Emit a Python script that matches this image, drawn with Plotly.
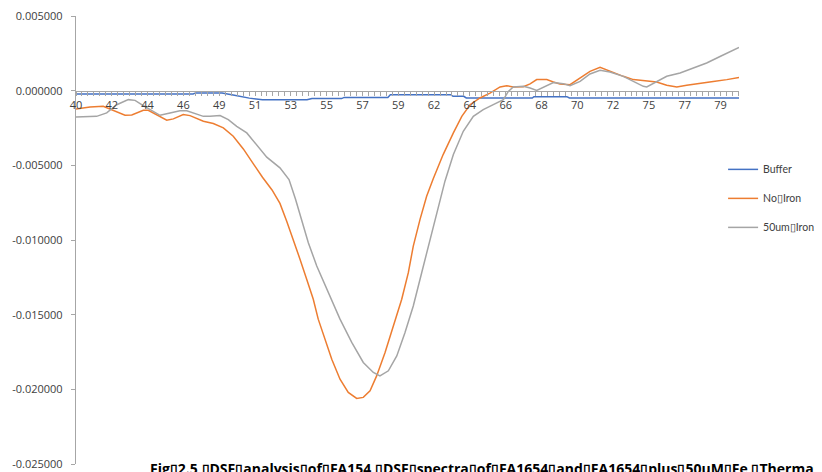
import plotly.graph_objects as go

# ---- data (temperature in °C, first derivative of fluorescence) ----
buffer_t = [40.00, 47.10, 47.25, 48.85, 49.60, 50.50, 51.30, 54.00, 54.30, 56.10, 56.25,
            58.90, 59.05, 62.70, 62.85, 63.50, 63.65, 67.65, 67.75, 69.75, 69.90, 80.18]
buffer_v = [-0.00022, -0.00022, -0.00015, -0.00015, -0.00030, -0.00050, -0.00060, -0.00060,
            -0.00053, -0.00053, -0.00045, -0.00045, -0.00027, -0.00027, -0.00038, -0.00038,
            -0.00049, -0.00049, -0.00040, -0.00040, -0.00049, -0.00049]

noiron_t = [40.00, 40.85, 41.65, 42.26, 42.97, 43.38, 44.08, 44.38, 44.89, 45.50, 45.90,
            46.50, 46.91, 47.72, 48.32, 48.93, 49.53, 50.14, 50.75, 51.30, 51.88, 52.36,
            52.77, 53.17, 53.58, 53.98, 54.38, 54.68, 55.09, 55.50, 56.00, 56.50, 57.01,
            57.41, 57.82, 58.22, 58.73, 59.23, 59.74, 60.14, 60.44, 60.85, 61.25, 61.65,
            62.25, 62.87, 63.38, 63.88, 64.48, 65.09, 65.70, 66.10, 66.50, 67.11, 67.52,
            67.92, 68.53, 68.93, 69.33, 69.94, 70.55, 71.15, 71.76, 72.36, 73.17, 73.78,
            74.59, 75.19, 75.80, 76.41, 77.01, 77.82, 78.62, 79.44, 80.18]
noiron_v = [-0.00122, -0.00109, -0.00105, -0.00131, -0.00165, -0.00163, -0.00131, -0.00131,
            -0.00160, -0.00198, -0.00189, -0.00160, -0.00167, -0.00205, -0.00220, -0.00249,
            -0.00305, -0.00390, -0.00490, -0.00580, -0.00665, -0.00755, -0.00874, -0.00996,
            -0.01130, -0.01263, -0.01397, -0.01530, -0.01664, -0.01798, -0.01932, -0.02021,
            -0.02061, -0.02054, -0.02010, -0.01910, -0.01753, -0.01575, -0.01397, -0.01219,
            -0.01041, -0.00862, -0.00707, -0.00590, -0.00428, -0.00283, -0.00172, -0.00094,
            -0.00049, -0.00016, 0.00025, 0.00033, 0.00025, 0.00027, 0.00045, 0.00074,
            0.00074, 0.00058, 0.00045, 0.00040, 0.00085, 0.00129, 0.00156, 0.00129,
            0.00096, 0.00074, 0.00067, 0.00058, 0.00036, 0.00025, 0.00036, 0.00051,
            0.00062, 0.00074, 0.00089]

iron50_t = [40.00, 41.25, 41.86, 42.47, 43.17, 43.58, 43.98, 44.48, 45.09, 45.70, 46.30,
            46.71, 47.11, 47.72, 48.12, 48.73, 49.23, 49.74, 50.35, 50.95, 51.56, 52.36,
            52.91, 53.30, 53.68, 54.08, 54.59, 55.29, 56.00, 56.71, 57.41, 58.02, 58.42,
            58.93, 59.44, 59.94, 60.44, 60.95, 61.45, 61.86, 62.36, 62.87, 63.47, 64.08,
            64.68, 65.29, 65.90, 66.20, 66.50, 67.11, 67.52, 67.92, 68.32, 68.93, 69.53,
            69.94, 70.55, 71.15, 71.76, 72.36, 73.17, 73.78, 74.38, 74.59, 75.19, 75.80,
            76.61, 77.41, 78.22, 79.03, 80.18]
iron50_v = [-0.00176, -0.00172, -0.00149, -0.00094, -0.00060, -0.00065, -0.00094, -0.00127,
            -0.00165, -0.00149, -0.00134, -0.00134, -0.00149, -0.00172, -0.00172, -0.00167,
            -0.00194, -0.00239, -0.00283, -0.00360, -0.00445, -0.00517, -0.00595, -0.00725,
            -0.00862, -0.01018, -0.01174, -0.01352, -0.01530, -0.01686, -0.01820, -0.01887,
            -0.01910, -0.01876, -0.01776, -0.01620, -0.01442, -0.01219, -0.00996, -0.00817,
            -0.00606, -0.00428, -0.00272, -0.00172, -0.00127, -0.00094, -0.00060, -0.00005,
            0.00025, 0.00029, 0.00018, 0.00002, 0.00025, 0.00055, 0.00047, 0.00033,
            0.00062, 0.00112, 0.00136, 0.00125, 0.00096, 0.00062, 0.00029, 0.00025,
            0.00058, 0.00096, 0.00118, 0.00152, 0.00185, 0.00229, 0.00289]

x_tick_labels = ["40", "42", "44", "46", "49", "51", "53", "55", "57", "59", "62",
                 "64", "66", "68", "70", "72", "75", "77", "79"]
y_tick_values = [0.005, 0.0, -0.005, -0.010, -0.015, -0.020, -0.025]
y_tick_labels = ["0.005000", "0.000000", "-0.005000", "-0.010000", "-0.015000",
                 "-0.020000", "-0.025000"]
series_names = ["Buffer", "No\u25afIron", "50um\u25afIron"]
title_text = ("Fig\u25af2.5 \u25afDSF\u25afanalysis\u25afof\u25afFA154 \u25afDSF\u25afspectra\u25afof"
              "\u25afFA1654\u25afand\u25afFA1654\u25afplus\u25af50uM\u25afFe \u25afThermal\u25afshift")

# ---- styling ----
label_step = 2.17
x_start = 40.0
x_end = 80.18
tick_font = dict(family="Open Sans, sans-serif", size=11, color="#404040")
legend_font = dict(family="Lato, sans-serif", size=10.5, color="#404040")
axis_grey = "#A6A6A6"

fig = go.Figure()
for name, t, v, col, grp in [
    (series_names[0], buffer_t, buffer_v, "#4472C4", "a"),
    (series_names[1], noiron_t, noiron_v, "#ED7D31", "b"),
    (series_names[2], iron50_t, iron50_v, "#A5A5A5", "c"),
]:
    fig.add_trace(go.Scatter(x=t, y=v, mode="lines", name=name, legendgroup=grp,
                             line=dict(color=col, width=1.5)))

tickvals_x = [x_start + i * label_step for i in range(len(x_tick_labels))]

# the page body adds an 8px offset, so the figure is 8px smaller and margins shifted
fig.update_layout(
    width=814, height=464,
    margin=dict(l=68, r=83, t=8, b=8, autoexpand=False),
    paper_bgcolor="white", plot_bgcolor="white",
    showlegend=True,
    legend=dict(x=0.976, xanchor="left", y=0.69, yanchor="top",
                font=legend_font, itemwidth=30, tracegroupgap=10,
                bgcolor="rgba(0,0,0,0)"),
    xaxis=dict(range=[x_start, x_end], anchor="free", position=0.025 / 0.030,
               automargin=False,
               showgrid=False, zeroline=False, showline=True, linecolor=axis_grey,
               linewidth=1.3, tickmode="array", tickvals=tickvals_x,
               ticktext=x_tick_labels, ticks="outside", ticklen=4, tickcolor=axis_grey,
               tickfont=tick_font, ticklabeloverflow="allow",
               minor=dict(ticks="outside", ticklen=4, tickcolor=axis_grey,
                          tick0=x_start, dtick=label_step / 6, showgrid=False)),
    yaxis=dict(range=[-0.025, 0.005], automargin=False,
               showgrid=False, zeroline=False, showline=True,
               linecolor=axis_grey, linewidth=1.3, tickmode="array",
               tickvals=y_tick_values, ticktext=y_tick_labels, ticks="outside",
               ticklen=4, tickcolor=axis_grey, tickfont=tick_font,
               ticklabelstandoff=6, ticklabeloverflow="allow"),
)

fig.add_annotation(text="<b>" + title_text + "</b>", xref="paper", yref="paper",
                   x=(148 - 76) / 663, y=(464 - 457) / 448, xanchor="left", yanchor="top",
                   showarrow=False, font=dict(family="Open Sans, sans-serif", size=14,
                                              color="#000000"))

fig.write_html("out.html")
